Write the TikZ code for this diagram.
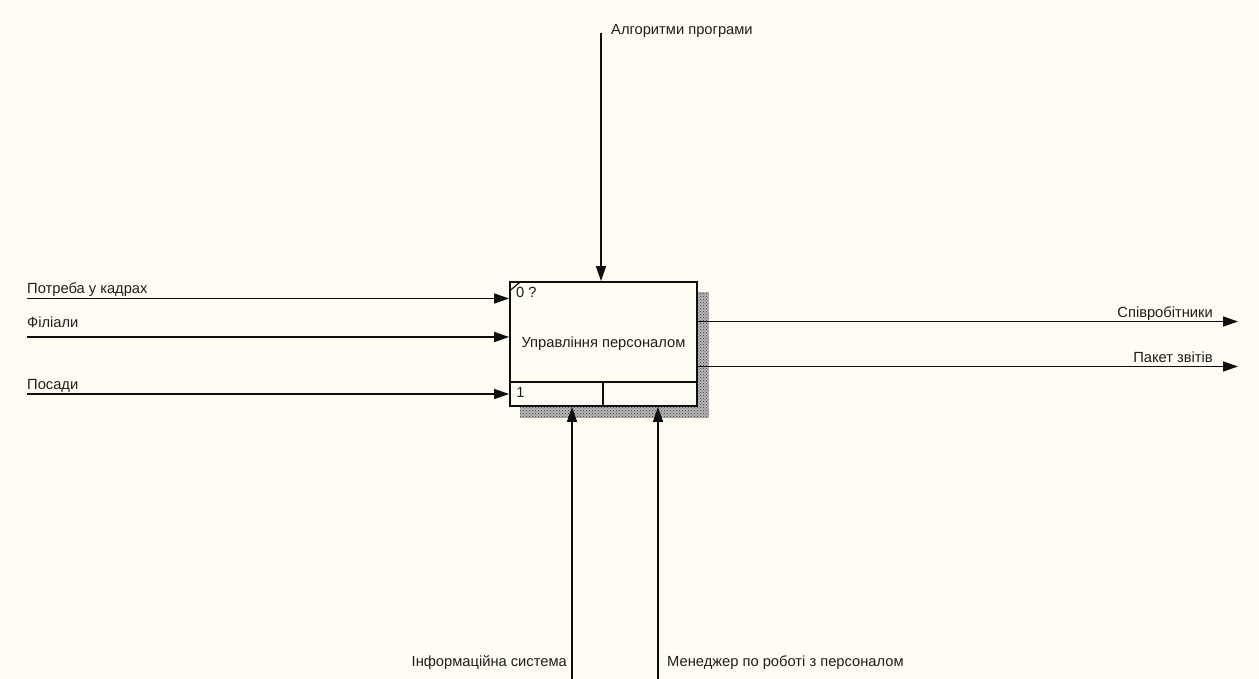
\documentclass[tikz,border=0pt]{standalone}
\usepackage{fontspec}
\setmainfont{Liberation Sans}
\usetikzlibrary{arrows.meta,patterns,positioning}
\definecolor{PaperColor}{RGB}{254,252,243}
\definecolor{InkColor}{RGB}{15,15,15}
\definecolor{TextColor}{RGB}{30,30,30}
\newcommand{\lblsize}{\fontsize{14.7}{17}\selectfont}
\pgfdeclarelayer{paper}
\pgfdeclarelayer{background}
\pgfsetlayers{paper,background,main}
\tikzset{
    flow/.style={draw=InkColor,line width=1.6pt,-{Triangle[length=15pt,width=10pt]}},
    flowlbl/.style={inner sep=0pt,text=TextColor,font=\lblsize},
    actbox/.style={draw=InkColor,line width=1.8pt,fill=PaperColor,minimum width=187pt,minimum height=124pt,inner sep=0pt,text=TextColor,font=\lblsize},
    boxline/.style={draw=InkColor,line width=1.8pt},
    boxshadow/.style={fill=black!28,postaction={pattern=crosshatch dots,pattern color=black!80}},
}

\begin{document}
\begin{tikzpicture}[x=1pt,y=-1pt]
    \useasboundingbox (0,0) rectangle (1259,679);    % Freeze the bounding box
    \begin{pgfonlayer}{paper}
        \fill[PaperColor] (0,0) rectangle (1259,679);
    \end{pgfonlayer}
    % --- --- --- Activity box
    \node[actbox] (act) at (603.5,344) {Управління персоналом};
    \begin{pgfonlayer}{background}
        \path[boxshadow] ([shift={(11pt,-11pt)}]act.north west) rectangle ([shift={(11pt,-11pt)}]act.south east);
    \end{pgfonlayer}
    \coordinate (DIV) at (0,382);
    \coordinate (MID) at (603,0);
    \draw[boxline] (act.west |- DIV) -- (act.east |- DIV);
    \draw[boxline] (MID |- DIV) -- (MID |- act.south);
    \draw[boxline,line width=1.2pt] ([shift={(0.7pt,-9.7pt)}]act.north west) -- ([shift={(11.7pt,-0.3pt)}]act.north west);
    \node[flowlbl,anchor=base west] (NUM) at ([shift={(6.7pt,-16.3pt)}]act.north west) {0 ?};
    \node[flowlbl,anchor=base west] (REF) at ([shift={(7pt,9pt)}]act.south west) {1};
    % --- --- --- Inputs
    \coordinate (I1) at (27,298.5);
    \coordinate (I2) at (27,337);
    \coordinate (I3) at (27,394);
    \draw[flow] (I1) -- (I1 -| act.west);
    \draw[flow] (I2) -- (I2 -| act.west);
    \draw[flow] (I3) -- (I3 -| act.west);
    \node[flowlbl,anchor=base west] (I1L) at ([yshift=5pt]I1) {Потреба у кадрах};
    \node[flowlbl,anchor=base west] (I2L) at ([yshift=10pt]I2) {Філіали};
    \node[flowlbl,anchor=base west] (I3L) at ([yshift=4.5pt]I3) {Посади};
    % --- --- --- Control
    \coordinate (C1) at (601,33);
    \draw[flow] (C1) -- (C1 |- act.north);
    \node[flowlbl,anchor=base west] (C1L) at ([shift={(10pt,-2pt)}]C1) {Алгоритми програми};
    % --- --- --- Outputs
    \coordinate (O1) at (1238,321.5);
    \coordinate (O2) at (1238,366.5);
    \draw[flow] (O1 -| act.east) -- (O1);
    \draw[flow] (O2 -| act.east) -- (O2);
    \node[flowlbl,anchor=base east] (O1L) at ([shift={(-25pt,4.5pt)}]O1) {Співробітники};
    \node[flowlbl,anchor=base east] (O2L) at ([shift={(-25pt,4pt)}]O2) {Пакет звітів};
    % --- --- --- Mechanisms
    \coordinate (M1) at (572,679);
    \coordinate (M2) at (658,679);
    \draw[flow] (M1) -- (M1 |- act.south);
    \draw[flow] (M2) -- (M2 |- act.south);
    \node[flowlbl,anchor=base east] (M1L) at ([shift={(-5pt,13pt)}]M1) {Інформаційна система};
    \node[flowlbl,anchor=base west] (M2L) at ([shift={(9pt,13pt)}]M2) {Менеджер по роботі з персоналом};
\end{tikzpicture}
\end{document}
